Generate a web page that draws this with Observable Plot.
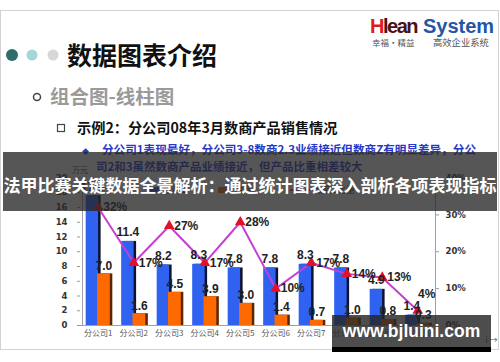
<!DOCTYPE html>
<html>
<head>
<meta charset="utf-8">
<script src="https://cdn.jsdelivr.net/npm/d3@7"></script>
<script src="https://cdn.jsdelivr.net/npm/@observablehq/plot@0.6"></script>
<style>
  html, body { margin:0; padding:0; background:#fff; }
  #page { position:relative; width:500px; height:362px; overflow:hidden; background:#fff; font-family:"Noto Sans CJK SC", sans-serif; }
  .abs { position:absolute; }
  #banner { left:3px; top:152px; width:494px; height:59px; background:rgba(38,38,38,0.78); color:#fff;
    font:700 17px/59px "Noto Sans CJK SC", sans-serif; text-align:center; white-space:nowrap; z-index:5; }
  #banner span { position:relative; top:3px; }
  #wm { left:332px; top:315px; width:159px; height:32px; background:rgba(38,38,38,0.82); color:#fff;
    font:700 17.5px/32px "Liberation Sans", sans-serif; text-align:center; z-index:5; }
  #wmbar { left:332px; top:347px; width:159px; height:5px; background:#000; z-index:5; }
</style>
</head>
<body>
<div id="page">
<svg class="abs" style="left:0;top:0" width="500" height="362" font-family="Noto Sans CJK SC">
  <rect x="0.5" y="10.5" width="498" height="339" fill="#fff" stroke="#d2d2d2"/>
  <circle cx="12" cy="55" r="6" fill="#2f6d6d"/>
  <circle cx="32" cy="55" r="5.5" fill="#a6d5d5"/>
  <circle cx="53" cy="55" r="5.5" fill="#d7d7d7"/>
  <text x="67" y="65" font-size="25" font-weight="700" fill="#111">数据图表介绍</text>
  <text x="370" y="32.5" font-family="Liberation Sans" font-weight="700" font-size="20" letter-spacing="-1.5"><tspan fill="#e01b22">H</tspan><tspan fill="#4a1212">lean</tspan></text>
  <text x="423" y="32.5" font-family="Liberation Sans" font-weight="700" font-size="20" letter-spacing="0" fill="#2356a6">System</text>
  <text x="372" y="46" font-size="8.5" fill="#555">幸福·精益</text>
  <text x="433" y="46" font-size="9.3" fill="#555">高效企业系统</text>
  <circle cx="37" cy="97" r="3.5" fill="none" stroke="#444" stroke-width="1.5"/>
  <text x="50" y="104" font-size="19.5" font-weight="700" fill="#9a9a9a">组合图-线柱图</text>
  <rect x="57.5" y="124.5" width="7" height="7" fill="none" stroke="#444" stroke-width="1.2"/>
  <text x="77" y="133" font-size="14.2" font-weight="700" fill="#111">示例2：分公司08年3月数商产品销售情况</text>
  <text x="82" y="154" font-size="7" fill="#2838c8">◆</text>
  <text x="102" y="154" font-size="11.6" font-weight="700" fill="#2838c8">分公司1表现最好，分公司3-8数商2.3业绩接近但数商Z有明显差异，分公</text>
  <text x="96" y="171" font-size="11.5" font-weight="700" fill="#2838c8">司2和3虽然数商产品业绩接近，但产品比重相差较大</text>
  <text x="72" y="173" font-size="8" fill="#444">万元</text>
  <rect x="147" y="187" width="13" height="6" fill="#2f62f0"/>
  <text x="163" y="193" font-size="9" fill="#333">数商1</text>
  <rect x="218" y="187" width="13" height="6" fill="#ff6a00"/>
  <text x="234" y="193" font-size="9" fill="#333">数商2</text>
  <line x1="290" y1="190" x2="310" y2="190" stroke="#c640d0" stroke-width="2"/>
  <text x="314" y="193" font-size="9" fill="#333">数商2比重</text>
</svg>
<div id="chart"></div>
<div id="banner" class="abs"><span>法甲比赛关键数据全景解析：通过统计图表深入剖析各项表现指标</span></div>
<div id="wm" class="abs">www.bjluini.com</div>
<div id="wmbar" class="abs"></div>
</div>
<script>
const cats = ["分公司1","分公司2","分公司3","分公司4","分公司5","分公司6","分公司7","分公司8","分公司9","分公司10"];
const sales1 = [17.6, 11.4, 8.2, 8.3, 7.8, 7.8, 8.3, 7.8, 4.9, 1.4];
const sales2 = [7.0, 1.6, 4.5, 3.9, 3.0, 1.4, 0.7, 1.0, 0.8, 0.3];
const share = [32, 17, 27, 17, 28, 10, 17, 14, 13, 4];
const leftTicks = [0, 2, 4, 6, 8, 10, 12, 14, 16, 18, 20];
const rightTicks = [0, 10, 20, 30, 40];

const rows = cats.map((c, i) => ({i, cat: c, s1: sales1[i], s2: sales2[i], pct: share[i]}));
const pctY = d => d.pct / 2; // right axis 0–40% maps onto left 0–20
const lastI = rows.length - 1;

const blue = "#2f62f0", orange = "#ff6a00";
const num = {fontFamily: "Liberation Sans", fontWeight: "bold", fontSize: 12, fill: "#222"};
const axisFont = {fontFamily: "DejaVu Sans", fontWeight: "bold", fontSize: 8.5};

const chart = Plot.plot({
  width: 500, height: 185,
  marginLeft: 80, marginRight: 65, marginTop: 17.5, marginBottom: 20,
  style: {background: "transparent", overflow: "visible", fontFamily: "Liberation Sans"},
  x: {domain: [-0.5, 9.5], axis: null},
  y: {domain: [0, 20], axis: null},
  marks: [
    Plot.rect(rows, {x1: d => d.i - 0.34, x2: d => d.i + 0.01, y1: 0, y2: "s1", fill: "#0d1230", dx: 2.5}),
    Plot.rect(rows, {x1: d => d.i - 0.34, x2: d => d.i + 0.01, y1: 0, y2: "s1", fill: blue}),
    Plot.rect(rows, {x1: d => d.i - 0.02, x2: d => d.i + 0.34, y1: 0, y2: "s2", fill: "#5a2600", dx: 2.5}),
    Plot.rect(rows, {x1: d => d.i - 0.02, x2: d => d.i + 0.34, y1: 0, y2: "s2", fill: orange}),
    Plot.ruleY([0], {stroke: "#a0a0a0"}),
    Plot.ruleX([-0.5], {stroke: "#a0a0a0", dx: 2}),
    Plot.ruleX([9.5], {stroke: "#a0a0a0"}),
    Plot.axisY(leftTicks, {anchor: "left", tickSize: 3, tickPadding: 10, tickFormat: d => String(d), color: "#333", stroke: "#999", ...axisFont}),
    Plot.axisY(rightTicks.map(v => v / 2), {anchor: "right", tickSize: 3, tickPadding: 7, tickFormat: v => `${v * 2}%`, color: "#333", stroke: "#999", ...axisFont}),
    Plot.axisX(rows.map(d => d.i), {anchor: "bottom", tickSize: 0, tickPadding: 5, tickFormat: i => cats[i], fontFamily: "Noto Sans CJK SC", fontSize: 8, fill: "#555"}),
    Plot.line(rows, {x: "i", y: pctY, stroke: "#c640d0", strokeWidth: 2}),
    Plot.dot(rows, {x: "i", y: pctY, symbol: "triangle", r: 4, fill: "#e3102c"}),
    Plot.text(rows, {x: d => d.i - 0.165, y: "s1", text: d => d.s1.toFixed(1), dy: -9, ...num}),
    Plot.text(rows, {x: d => d.i + 0.16, y: "s2", text: d => d.s2.toFixed(1), dy: -8, ...num}),
    Plot.text(rows.filter(d => d.i !== lastI), {x: "i", y: pctY, text: d => `${d.pct}%`, textAnchor: "start", dx: 5, ...num}),
    Plot.text(rows.filter(d => d.i === lastI), {x: "i", y: pctY, text: d => `${d.pct}%`, textAnchor: "middle", dx: 9, dy: -17, ...num})
  ]
});
chart.style.position = "absolute";
chart.style.left = "0px";
chart.style.top = "160px";
document.getElementById("chart").appendChild(chart);
</script>
</body>
</html>
